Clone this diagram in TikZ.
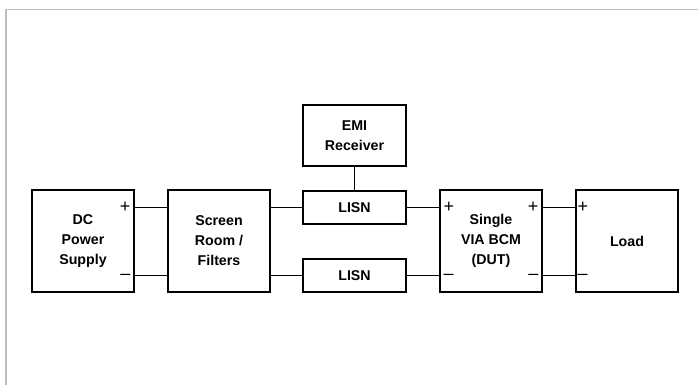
\documentclass[tikz,border=0pt]{standalone}
\usepackage{fontspec}
\setmainfont{Liberation Sans}
\begin{document}
\begin{tikzpicture}[x=1pt,y=-1pt,
  blk/.style={draw=black,line width=1.4pt,inner sep=0pt,align=center,
    font=\fontsize{14.2}{20}\selectfont\bfseries},
  bigbox/.style={blk,minimum width=102pt,minimum height=102pt},
  lisnbox/.style={blk,minimum width=103pt,minimum height=33pt},
  wire/.style={line width=1.4pt,black},
  pol/.style={inner sep=0pt,font=\fontsize{18}{18}\selectfont},
  frameline/.style={draw={rgb,255:red,180;green,194;blue,200},line width=1.5pt}]
  \useasboundingbox (0,0) rectangle (698,385);
  % outer frame (top and left edges)
  \draw[frameline] (6,385) -- (6,9.5) -- (698,9.5);

  % blocks
  \node[bigbox] (dc)   at (83,241)  {DC\\Power\\Supply};
  \node[bigbox] (scr)  at (219,241) {Screen\\Room /\\Filters};
  \node[lisnbox] (lisnA) at (354.5,207.5) {LISN};
  \node[lisnbox] (lisnB) at (354.5,275.5) {LISN};
  \node[blk,minimum width=103pt,minimum height=61pt] (emi) at (354.5,135.5) {EMI\\Receiver};
  \node[bigbox] (bcm)  at (491,241) {Single\\VIA BCM\\(DUT)};
  \node[bigbox] (load) at (627,241) {Load};

  % wiring, positive rail follows the upper LISN, negative the lower one
  \draw[wire] (dc.east |- lisnA) -- (scr.west |- lisnA);
  \draw[wire] (dc.east |- lisnB) -- (scr.west |- lisnB);
  \draw[wire] (scr.east |- lisnA) -- (lisnA.west);
  \draw[wire] (scr.east |- lisnB) -- (lisnB.west);
  \draw[wire] (lisnA.east) -- (bcm.west |- lisnA);
  \draw[wire] (lisnB.east) -- (bcm.west |- lisnB);
  \draw[wire] (bcm.east |- lisnA) -- (load.west |- lisnA);
  \draw[wire] (bcm.east |- lisnB) -- (load.west |- lisnB);
  \draw[wire] (emi.south) -- (lisnA.north);

  % terminal polarity marks
  \node[pol,anchor=east] (dcp) at ([xshift=-4pt]dc.east |- lisnA) {+};
  \node[pol,anchor=east] (dcm) at ([xshift=-4pt,yshift=-1pt]dc.east |- lisnB) {–};
  \node[pol,anchor=west] (bip) at ([xshift=4pt]bcm.west |- lisnA) {+};
  \node[pol,anchor=west] (bim) at ([xshift=4pt,yshift=-1pt]bcm.west |- lisnB) {–};
  \node[pol,anchor=east] (bop) at ([xshift=-4pt]bcm.east |- lisnA) {+};
  \node[pol,anchor=east] (bom) at ([xshift=-4pt,yshift=-1pt]bcm.east |- lisnB) {–};
  \node[pol,anchor=west] (lp) at ([xshift=2pt]load.west |- lisnA) {+};
  \node[pol,anchor=west] (lm) at ([xshift=2pt,yshift=-1pt]load.west |- lisnB) {–};
\end{tikzpicture}
\end{document}
